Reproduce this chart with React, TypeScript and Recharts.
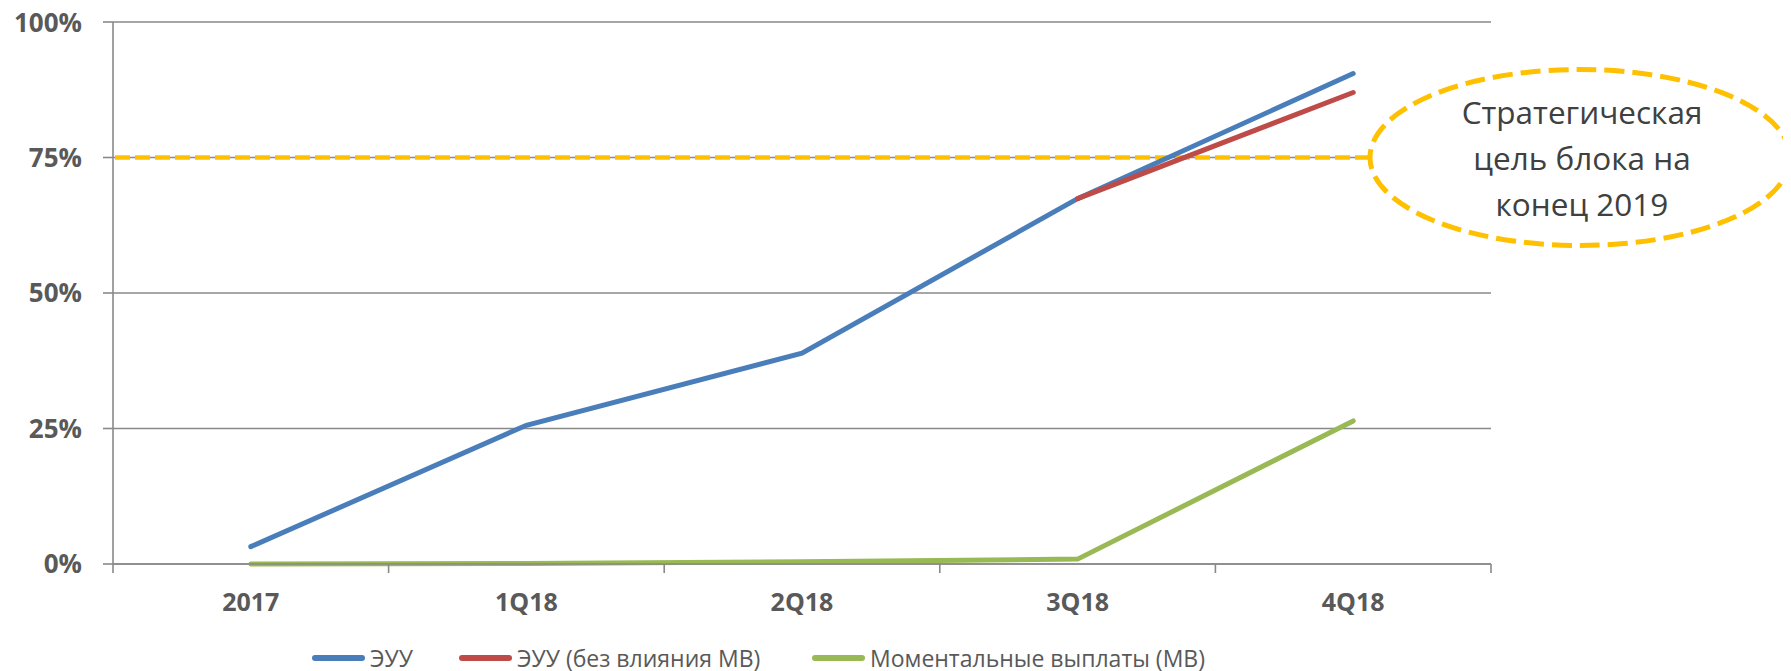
import React from 'react';
import { ComposedChart, Line, XAxis, YAxis, CartesianGrid, ReferenceLine, Legend } from 'recharts';

const categories = ['2017', '1Q18', '2Q18', '3Q18', '4Q18'];
const euu = [3.2, 25.6, 38.9, 67.4, 90.5];
const euuNoMv: (number | null)[] = [null, null, null, 67.4, 87.0];
const mv = [0, 0.1, 0.4, 0.9, 26.4];
const yTicks = [0, 25, 50, 75, 100];
const targetValue = 75;
const targetLines = ['Стратегическая', 'цель блока на', 'конец 2019'];

const seriesNames = ['ЭУУ', 'ЭУУ (без влияния МВ)', 'Моментальные выплаты (МВ)'];
const seriesColors = ['#4A7EBB', '#BE4B48', '#98B954'];

const data = categories.map((c, i) => ({
  cat: c,
  euu: euu[i],
  euuNoMv: euuNoMv[i],
  mv: mv[i],
}));

const FONT = "'Open Sans', sans-serif";
const GRID = '#898989';
const TEXT = '#595959';
const GOLD = '#FFC000';
const X_TICK_SIZE = 9;
const X_TICK_MARGIN = 20;

const TargetShape = (p: any) => {
  const y = p.y1;
  const plotRight = Math.max(p.x1, p.x2);
  const plotLeft = Math.min(p.x1, p.x2);
  const cx = plotRight + 89;
  const rx = 210;
  const ry = 88;
  return (
    <g>
      <line x1={plotLeft + 2} y1={y} x2={cx - rx} y2={y} stroke={GOLD} strokeWidth={4.5} strokeDasharray="15 5" />
      <ellipse cx={cx} cy={y} rx={rx} ry={ry} fill="#fff" stroke={GOLD} strokeWidth={5} strokeDasharray="20 8" />
      {targetLines.map((t, i) => (
        <text key={i} x={cx + 2} y={y + (i - 1) * 46} textAnchor="middle" dominantBaseline="central"
          fontFamily={FONT} fontSize={31.5} fill="#404040">{t}</text>
      ))}
    </g>
  );
};

const CatTick = (props: any) => {
  const { x, y, payload, index, visibleTicksCount } = props;
  const half = payload.offset || 0;
  const axisY = y - X_TICK_SIZE - X_TICK_MARGIN;
  const isLast = index === visibleTicksCount - 1;
  return (
    <g>
      <line x1={x - half} y1={axisY} x2={x - half} y2={axisY + X_TICK_SIZE} stroke={GRID} strokeWidth={1.6} />
      {isLast && <line x1={x + half} y1={axisY} x2={x + half} y2={axisY + X_TICK_SIZE} stroke={GRID} strokeWidth={1.6} />}
      <text x={x} y={y} dy="0.71em" textAnchor="middle" fontFamily={FONT} fontSize={25} fontWeight={700} fill={TEXT}>
        {payload.value}
      </text>
    </g>
  );
};

const itemWidths = [147, 353, 420];

const LegendContent = () => (
  <div style={{ height: 47, display: 'flex', paddingLeft: 304, paddingTop: 20, boxSizing: 'border-box', fontFamily: FONT, fontSize: 23, color: TEXT, lineHeight: '28px' }}>
    {seriesNames.map((n, i) => (
      <div key={n} style={{ width: itemWidths[i], display: 'flex', alignItems: 'center', whiteSpace: 'nowrap' }}>
        <span style={{ display: 'inline-block', width: 53, height: 6, borderRadius: 3, background: seriesColors[i], marginRight: 5 }} />
        <span>{n}</span>
      </div>
    ))}
  </div>
);

export default function App() {
  return (
    <div style={{ width: 1783, height: 663 }}>
      <ComposedChart width={1783} height={663} data={data} margin={{ top: 14, right: 300, bottom: 0, left: 0 }}>
        <CartesianGrid vertical={false} stroke={GRID} strokeWidth={1.6} />
        <XAxis dataKey="cat" scale="band" height={60} axisLine={{ stroke: GRID, strokeWidth: 1.6 }} tickLine={false}
          tickSize={X_TICK_SIZE} tickMargin={X_TICK_MARGIN} tick={CatTick} interval={0} />
        <YAxis domain={[0, 100]} ticks={yTicks} width={105} tickFormatter={(v) => `${v}%`} tickSize={10} tickMargin={21}
          axisLine={{ stroke: GRID, strokeWidth: 1.6 }} tickLine={{ stroke: GRID, strokeWidth: 1.6 }}
          tick={{ fontFamily: FONT, fontSize: 26, fontWeight: 700, fill: TEXT }} />
        <ReferenceLine y={targetValue} ifOverflow="visible" shape={TargetShape} />
        <Line type="linear" dataKey="euu" name={seriesNames[0]} stroke={seriesColors[0]} strokeWidth={5}
          strokeLinecap="round" dot={false} activeDot={false} isAnimationActive={false} />
        <Line type="linear" dataKey="euuNoMv" name={seriesNames[1]} stroke={seriesColors[1]} strokeWidth={5}
          strokeLinecap="round" dot={false} activeDot={false} isAnimationActive={false} />
        <Line type="linear" dataKey="mv" name={seriesNames[2]} stroke={seriesColors[2]} strokeWidth={5}
          strokeLinecap="round" dot={false} activeDot={false} isAnimationActive={false} />
        <Legend verticalAlign="bottom" content={LegendContent} wrapperStyle={{ left: 0, width: 1783, bottom: 0 }} />
      </ComposedChart>
    </div>
  );
}
